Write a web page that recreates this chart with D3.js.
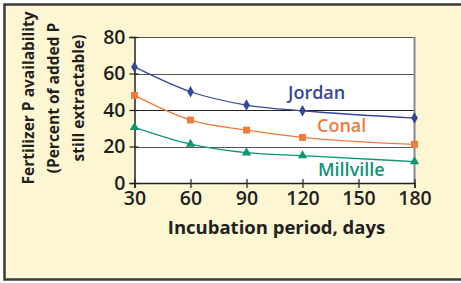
<!DOCTYPE html>
<meta charset="utf-8">
<style>
body { margin: 0; background: #fff; }
text { font-family: "Open Sans", "Lato", sans-serif; fill: #231f20; }
</style>
<svg width="461" height="283"></svg>
<script src="https://d3js.org/d3.v7.min.js"></script>
<script>

var days = [30, 60, 90, 120, 180];
var jordan = [63.6, 50, 42.7, 39.6, 35.6];
var conal = [48, 34.5, 29, 25, 21.2];
var millville = [30.5, 21.3, 16.6, 15, 11.7];
var xTicks = [30, 60, 90, 120, 150, 180];
var yTicks = [0, 20, 40, 60, 80];

var series = [
  {name: "Jordan", values: jordan, color: "#34479b", shape: d3.symbolDiamond, size: 38, lx: 288, ly: 99},
  {name: "Conal", values: conal, color: "#f07b3b", shape: d3.symbolSquare, size: 48, lx: 317, ly: 132},
  {name: "Millville", values: millville, color: "#0e9574", shape: d3.symbolTriangle, size: 38, lx: 318, ly: 176}
];

var svg = d3.select("svg");

// frame
svg.append("rect")
    .attr("x", 4.5).attr("y", 4.5)
    .attr("width", 470).attr("height", 275)
    .attr("fill", "#fdf6d2")
    .attr("stroke", "#3a3a3a")
    .attr("stroke-width", 2.5);

var pl = 134.5, pr = 414.5, pt = 37, pb = 183;

var x = d3.scaleLinear().domain([30, 180]).range([pl, pr]);
var y = d3.scaleLinear().domain([0, 80]).range([pb, pt]);

svg.append("rect")
    .attr("x", pl).attr("y", pt)
    .attr("width", pr - pl).attr("height", pb - pt)
    .attr("fill", "#fff");

// grid
svg.append("g")
  .selectAll("line")
  .data(yTicks.filter(function(d) { return d > 0; }))
  .enter().append("line")
    .attr("x1", pl).attr("x2", pr)
    .attr("y1", function(d) { return Math.round(y(d)) + 0.5; })
    .attr("y2", function(d) { return Math.round(y(d)) + 0.5; })
    .attr("stroke", function(d) { return d === 40 ? "#222" : "#555"; })
    .attr("stroke-width", 1.2);

svg.append("line")
    .attr("x1", pr).attr("x2", pr)
    .attr("y1", pt).attr("y2", pb)
    .attr("stroke", "#888").attr("stroke-width", 2);

var yAxis = svg.append("g")
    .attr("transform", "translate(" + pl + ",0)")
    .call(d3.axisLeft(y).tickValues(yTicks).tickSize(5).tickPadding(4));

var xAxis = svg.append("g")
    .attr("transform", "translate(0," + pb + ")")
    .call(d3.axisBottom(x).tickValues(xTicks).tickSize(5).tickPadding(3));

[xAxis, yAxis].forEach(function(a) {
  a.select(".domain").attr("stroke", "#222").attr("stroke-width", 1.5);
  a.selectAll(".tick line").attr("stroke", "#222").attr("stroke-width", 1.2);
  a.selectAll("text").attr("fill", "#231f20").style("font-size", "19.5px")
      .style("font-family", "'Open Sans', sans-serif").style("font-weight", "600");
});
xAxis.selectAll(".tick line").attr("y1", -4);
yAxis.selectAll(".tick line").attr("x1", 4);

var line = d3.line()
    .x(function(d, i) { return x(days[i]); })
    .y(function(d) { return y(d); })
    .curve(d3.curveMonotoneX);

series.forEach(function(s) {
  svg.append("path")
      .attr("d", line(s.values))
      .attr("fill", "none")
      .attr("stroke", s.color)
      .attr("stroke-width", 1.3);
  svg.append("g").selectAll("path")
    .data(s.values)
    .enter().append("path")
      .attr("transform", function(d, i) { return "translate(" + x(days[i]) + "," + y(d) + ")"; })
      .attr("d", d3.symbol().type(s.shape).size(s.size))
      .attr("fill", s.color);
  svg.append("text")
      .attr("x", s.lx).attr("y", s.ly)
      .style("fill", s.color)
      .style("font-size", "18px")
      .style("font-weight", "600")
      .text(s.name);
});

svg.append("text")
    .attr("x", (pl + pr) / 2 + 2).attr("y", 234)
    .attr("text-anchor", "middle")
    .style("font-size", "18.5px").style("font-weight", "bold")
    .text("Incubation period, days");

var yl = svg.append("text")
    .attr("transform", "translate(0,98) rotate(-90)")
    .attr("text-anchor", "middle")
    .style("font-size", "15.5px").style("font-weight", "bold");
["Fertilizer P availability", "(Percent of added P", "still extractable)"].forEach(function(t, i) {
  yl.append("tspan").attr("x", 0).attr("y", 34 + i * 25).text(t);
});

</script>
